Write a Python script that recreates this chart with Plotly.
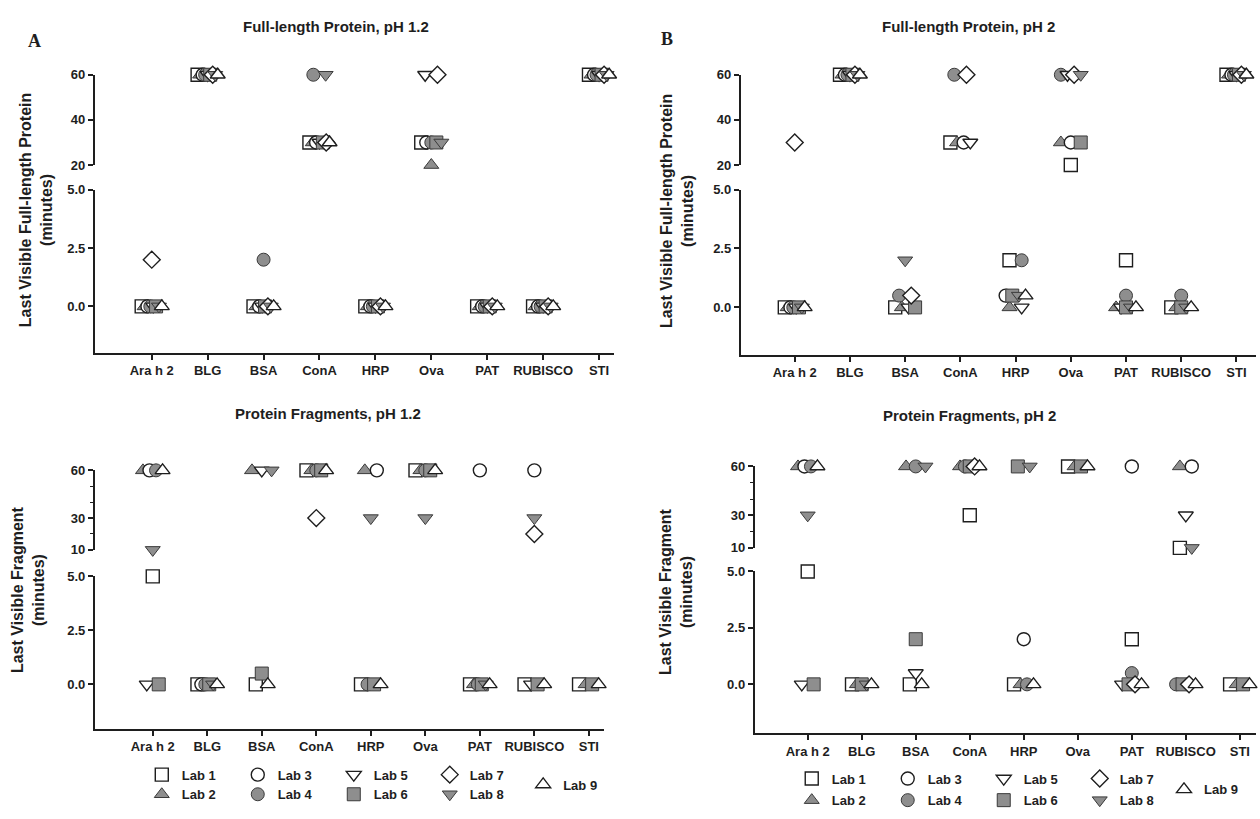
import plotly.graph_objects as go

W, H = 1260, 819
PROTEINS = ["Ara h 2", "BLG", "BSA", "ConA", "HRP", "Ova", "PAT", "RUBISCO", "STI"]
LABS = ["Lab 1", "Lab 2", "Lab 3", "Lab 4", "Lab 5", "Lab 6", "Lab 7", "Lab 8", "Lab 9"]
N = None

# Last visible time (minutes), order of PROTEINS
FL_PH12 = {
    "Lab 1": [0, 60, 0, 30, 0, 30, 0, 0, 60],
    "Lab 2": [0, 60, 0, 30, 0, 20, 0, 0, 60],
    "Lab 3": [0, 60, 0, 30, 0, 30, 0, 0, 60],
    "Lab 4": [0, 60, 2, 60, 0, 30, 0, 0, 60],
    "Lab 5": [0, 60, 0, 30, 0, 60, 0, 0, 60],
    "Lab 6": [0, 60, 0, 30, 0, 30, 0, 0, 60],
    "Lab 7": [2, 60, 0, 30, 0, 60, 0, 0, 60],
    "Lab 8": [0, 60, 0, 60, 0, 30, 0, 0, 60],
    "Lab 9": [0, 60, 0, 30, 0, N, 0, 0, 60],
}
FL_PH2 = {
    "Lab 1": [0, 60, 0, 30, 2, 20, 2, 0, 60],
    "Lab 2": [0, 60, 0, 30, 0, 30, 0, 0, 60],
    "Lab 3": [0, 60, N, 30, 0.5, 30, N, N, 60],
    "Lab 4": [0, 60, 0.5, 60, 2, 60, 0.5, 0.5, 60],
    "Lab 5": [0, 60, 0, 30, 0, 60, 0, N, 60],
    "Lab 6": [0, 60, 0, N, 0.5, 30, 0, 0, 60],
    "Lab 7": [30, 60, 0.5, 60, N, 60, N, N, 60],
    "Lab 8": [0, 60, 2, N, 0.5, 60, 0, 0, 60],
    "Lab 9": [0, 60, N, N, 0.5, N, 0, 0, 60],
}
FRAG_PH12 = {
    "Lab 1": [5, 0, 0, 60, 0, 60, 0, 0, 0],
    "Lab 2": [60, N, 60, 60, 60, 60, 0, N, 0],
    "Lab 3": [60, 0, N, N, 60, N, 60, 60, N],
    "Lab 4": [60, 0, N, 60, 0, 60, 0, N, N],
    "Lab 5": [0, N, 60, N, N, N, N, 0, N],
    "Lab 6": [0, 0, 0.5, 60, 0, 60, 0, 0, 0],
    "Lab 7": [N, N, N, 30, N, N, N, 20, N],
    "Lab 8": [10, 0, 60, N, 30, 30, 0, 30, N],
    "Lab 9": [60, 0, 0, 60, 0, 60, 0, 0, 0],
}
FRAG_PH2 = {
    "Lab 1": [5, 0, 0, 30, 0, 60, 2, 10, 0],
    "Lab 2": [60, 0, 60, 60, 0, 60, N, 60, 0],
    "Lab 3": [60, N, N, N, 2, N, 60, 60, N],
    "Lab 4": [60, N, 60, 60, 0, N, 0.5, 0, N],
    "Lab 5": [0, N, 0.5, N, N, N, 0, 30, N],
    "Lab 6": [0, 0, 2, 60, 60, 60, 0, 0, 0],
    "Lab 7": [N, N, N, 60, N, N, 0, 0, N],
    "Lab 8": [30, 0, 60, N, 60, N, N, 10, N],
    "Lab 9": [60, 0, 0, 60, 0, 60, 0, 0, 0],
}

SYMBOLS = {"Lab 1": "square", "Lab 2": "triangle-up", "Lab 3": "circle", "Lab 4": "circle",
           "Lab 5": "triangle-down", "Lab 6": "square", "Lab 7": "diamond",
           "Lab 8": "triangle-down", "Lab 9": "triangle-up"}
FILLED = {"Lab 2", "Lab 4", "Lab 6", "Lab 8"}
GRAY = "#8e8e8e"
INK = "#1e1e1e"
FONT = "Liberation Sans"

PANELS = [
    dict(data=FL_PH12, x0=95, x1=615, cat0=152, dcat=56, low_bot=352, low_top=186, zero=305,
         up_bot=161, up_top=69, brk=20, up_range=[20, 60], up_ticks=[20, 40, 60], minor=None,
         title="Full-length Protein, pH 1.2", tx=337, ty=20,
         ytitle="Last Visible Full-length Protein", yx=36, yy=207),
    dict(data=FL_PH2, x0=742, x1=1258, cat0=796, dcat=55.3, low_bot=354, low_top=186, zero=306,
         up_bot=161, up_top=69, brk=20, up_range=[20, 60], up_ticks=[20, 40, 60], minor=None,
         title="Full-length Protein, pH 2", tx=970, ty=20,
         ytitle="Last Visible Full-length Protein", yx=678, yy=208),
    dict(data=FRAG_PH12, x0=95, x1=605, cat0=153, dcat=54.6, low_bot=735, low_top=580, zero=690,
         up_bot=553, up_top=472, brk=10, up_range=[10, 60], up_ticks=[10, 30, 60], minor=[20, 40, 50],
         title="Protein Fragments, pH 1.2", tx=329, ty=414,
         ytitle="Last Visible Fragment", yx=28, yy=593),
    dict(data=FRAG_PH2, x0=756, x1=1258, cat0=809, dcat=54.1, low_bot=740, low_top=575, zero=690,
         up_bot=551, up_top=468, brk=10, up_range=[10, 60], up_ticks=[10, 30, 60], minor=[20, 40, 50],
         title="Protein Fragments, pH 2", tx=971, ty=416,
         ytitle="Last Visible Fragment", yx=677, yy=595),
]

fig = go.Figure()
layout = dict(width=W, height=H, margin=dict(l=0, r=0, t=0, b=0),
              paper_bgcolor="white", plot_bgcolor="rgba(0,0,0,0)",
              font=dict(family=FONT, color=INK, size=12, weight="bold"))
annotations = []

def marker_for(lab, size=13):
    if lab in FILLED:
        return dict(symbol=SYMBOLS[lab], size=size, color=GRAY, line=dict(color="#3a3a3a", width=1))
    return dict(symbol=SYMBOLS[lab], size=size, color="white", line=dict(color=INK, width=1.4))

axis_common = dict(showline=True, linewidth=2, linecolor=INK, ticks="outside", ticklen=5,
                   tickwidth=1.5, tickcolor=INK, showgrid=False, zeroline=False, fixedrange=True)
xfont = dict(family=FONT, size=13, color=INK, weight="bold")
yfont = dict(family=FONT, size=13, color=INK, weight="bold")

for p, P in enumerate(PANELS):
    xid = p + 1
    ylo = 2 * p + 1
    yhi = 2 * p + 2
    data = P["data"]
    # horizontal spreading of equal values within each category
    offsets = {lab: [0.0] * len(PROTEINS) for lab in LABS}
    for i in range(len(PROTEINS)):
        groups = {}
        for lab in LABS:
            v = data[lab][i]
            if v is not None:
                groups.setdefault(v, []).append(lab)
        for v, labs in groups.items():
            n = len(labs)
            if n > 1:
                step = min(0.22, 0.36 / (n - 1))
                for k, lab in enumerate(labs):
                    offsets[lab][i] = (k - (n - 1) / 2) * step
    for seg in ("low", "high"):
        for lab in LABS:
            xs, ys = [], []
            for i, v in enumerate(data[lab]):
                if v is None:
                    continue
                if (seg == "high") == (v >= P["brk"]):
                    xs.append(i + offsets[lab][i])
                    ys.append(v)
            if not xs:
                continue
            fig.add_trace(go.Scatter(
                x=xs, y=ys, mode="markers", marker=marker_for(lab), name=lab,
                showlegend=False, cliponaxis=False, hoverinfo="skip",
                xaxis="x" if xid == 1 else f"x{xid}",
                yaxis=("y" if ylo == 1 else f"y{ylo}") if seg == "low" else f"y{yhi}"))

    unit = (P["zero"] - P["low_top"]) / 5.0
    low_r0 = -(P["low_bot"] - P["zero"]) / unit
    xr = [(P["x0"] - P["cat0"]) / P["dcat"], (P["x1"] - P["cat0"]) / P["dcat"]]
    layout[f"xaxis{'' if xid == 1 else xid}"] = dict(
        axis_common, tickfont=xfont, domain=[P["x0"] / W, P["x1"] / W], range=xr,
        anchor="y" if ylo == 1 else f"y{ylo}",
        tickmode="array", tickvals=list(range(len(PROTEINS))), ticktext=PROTEINS)
    layout[f"yaxis{'' if ylo == 1 else ylo}"] = dict(
        axis_common, tickfont=yfont, domain=[1 - P["low_bot"] / H, 1 - P["low_top"] / H],
        range=[low_r0, 5], anchor="x" if xid == 1 else f"x{xid}",
        tickmode="array", tickvals=[0, 2.5, 5], ticktext=["0.0", "2.5", "5.0"])
    up = dict(axis_common, tickfont=yfont, domain=[1 - P["up_bot"] / H, 1 - P["up_top"] / H],
              range=P["up_range"], anchor="x" if xid == 1 else f"x{xid}",
              tickmode="array", tickvals=P["up_ticks"], ticktext=[str(t) for t in P["up_ticks"]])
    if P["minor"]:
        up["minor"] = dict(tickvals=P["minor"], ticks="outside", ticklen=3, tickwidth=1.2, tickcolor=INK)
    layout[f"yaxis{yhi}"] = up

    annotations.append(dict(text=P["title"], x=P["tx"] / W, y=1 - P["ty"] / H, xref="paper", yref="paper",
                            showarrow=False, xanchor="center", yanchor="middle",
                            font=dict(family=FONT, size=15, color=INK, weight="bold")))
    annotations.append(dict(text=P["ytitle"] + "<br>(minutes)", x=P["yx"] / W, y=1 - P["yy"] / H,
                            xref="paper", yref="paper", showarrow=False, textangle=-90,
                            xanchor="center", yanchor="middle",
                            font=dict(family=FONT, size=16, color=INK, weight="bold")))

annotations.append(dict(text="A", x=26 / W, y=1 - 22 / H, xref="paper", yref="paper", showarrow=False,
                        font=dict(family="Liberation Serif", size=18, color=INK, weight="bold")))
annotations.append(dict(text="B", x=668 / W, y=1 - 20 / H, xref="paper", yref="paper", showarrow=False,
                        font=dict(family="Liberation Serif", size=18, color=INK, weight="bold")))
layout["annotations"] = annotations

# legends below the two bottom panels
LEGEND_ROWS = [["Lab 1", "Lab 3", "Lab 5", "Lab 7"], ["Lab 2", "Lab 4", "Lab 6", "Lab 8"], ["Lab 9"]]
LEGEND_POS = [
    [(154, 782), (154, 802), (536, 792)],
    [(805, 786), (805, 808), (1178, 797)],
]
lg = 1
for block in LEGEND_POS:
    for row, (cx, cy) in zip(LEGEND_ROWS, block):
        key = "legend" if lg == 1 else f"legend{lg}"
        layout[key] = dict(x=(cx - 12) / W, y=1 - cy / H, xanchor="left", yanchor="middle",
                           orientation="h", entrywidth=51, entrywidthmode="pixels",
                           bgcolor="rgba(0,0,0,0)", borderwidth=0, itemclick=False,
                           font=dict(family=FONT, size=13, color=INK, weight="bold"))
        for lab in row:
            fig.add_trace(go.Scatter(x=[None], y=[None], mode="markers", marker=marker_for(lab),
                                     name=lab, showlegend=True, legend=key, hoverinfo="skip"))
        lg += 1

fig.update_layout(**layout)
fig.write_html("out.html", config={"displayModeBar": False},
               post_script="document.body.style.margin='0';document.body.style.overflow='hidden';")
